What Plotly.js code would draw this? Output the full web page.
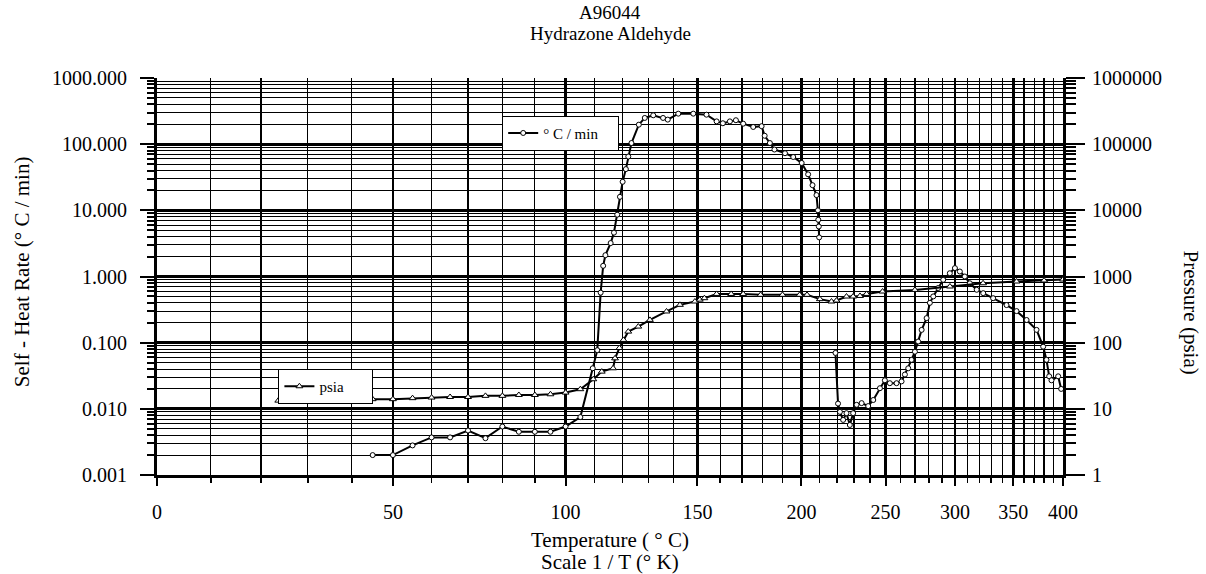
<!DOCTYPE html>
<html>
<head>
<meta charset="utf-8">
<script src="https://cdn.plot.ly/plotly-3.0.1.min.js"></script>
<style>html,body{margin:0;padding:0;background:#fff;}#chart{width:1206px;height:574px;}</style>
</head>
<body>
<div id="chart"></div>
<script>
// Self-heat rate (deg C / min) vs temperature (deg C); null = gap in the record
const heatT = [45, 50, 55, 60, 65, 70, 75, 80, 85, 90, 95, 100, 105, 109.3, 110.9, 112.1, 113, 113.8, 115.7, 116.9, 118.1, 119.1, 120.1, 121.3, 122.2, 123.4, 126.2, 128.5, 131.8, 135.7, 137.6, 141.9, 148.2, 153.9, 158.4, 161.2, 164.4, 167.2, 170.6, 175.4, 179.5, 181, 183.6, 185.9, 191.3, 195.6, 200.1, 203.6, 206, 208.2, 209, 209.2, 209.5, 209.7,
  null,
  219, 220.5, 221.6, 223.5, 225.5, 227.5, 229.5, 231.6, 234.7, 238.8, 242, 246.3, 249.5, 252.8, 257.3, 260.7, 263, 265.3, 267.6, 270, 272.3, 274.8, 278.4, 280.8, 283.3, 287, 290.8, 295.9, 299.9, 303.8, 307.8, 311.9, 317.6, 323.1, 331.7, 343.7, 353, 362.6, 372.4, 379.1, 382.5, 385.3, 387.7, 394.8, 398];
const heatRate = [0.002, 0.002, 0.0028, 0.0037, 0.0037, 0.0047, 0.0036, 0.0054, 0.0045, 0.0045, 0.0045, 0.0054, 0.0075, 0.041, 0.077, 0.57, 1.45, 2.1, 3.2, 4.6, 8.6, 16, 27, 42, 65, 104, 197, 249, 273, 249, 235, 289, 289, 279, 221, 207, 221, 230, 204, 182, 187, 134, 104, 83, 73, 64, 52, 35, 24, 17, 10, 7.2, 5.7, 3.9,
  null,
  0.07, 0.012, 0.009, 0.0068, 0.0086, 0.0057, 0.0086, 0.0115, 0.0122, 0.011, 0.0136, 0.0205, 0.027, 0.0244, 0.0244, 0.026, 0.033, 0.041, 0.055, 0.073, 0.104, 0.156, 0.235, 0.40, 0.50, 0.67, 0.89, 1.12, 1.34, 1.19, 1.0, 0.79, 0.63, 0.56, 0.47, 0.37, 0.30, 0.22, 0.156, 0.087, 0.055, 0.031, 0.027, 0.031, 0.02];

// Pressure (psia) vs temperature (deg C)
const pressT = [23.6, 26.8, 30.1, 33.1, 36.9, 40, 45, 50, 55, 60, 65, 70, 75, 80, 85, 90, 95, 100, 105, 109.5, 112.5, 116.6, 117.3, 118.9, 120.4, 122.2, 126, 130.5, 137.1, 142.6, 148.9, 151, 153, 158.4, 165, 170.6, 179, 190, 199, 203, 210.1, 216.7, 219.6, 225.5, 229.5, 233.7, 237.8, 248, 270, 296, 323, 353, 380, 400];
const pressPsia = [13.3, 13.6, 13.3, 13.6, 13.3, 13.6, 14.0, 14.0, 14.5, 14.8, 15.1, 15.1, 15.7, 15.7, 16.2, 16.2, 16.6, 17.6, 19.8, 28, 36.5, 41, 58, 83, 110, 147, 175, 221, 296, 373, 419, 447, 470, 545, 545, 545, 528, 528, 528, 528, 455, 419, 433, 498, 498, 508, 545, 593, 627, 706, 790, 840, 870, 900];

// Axis ticks
const xTickC = [0, 50, 100, 150, 200, 250, 300, 350, 400];
const xMinorC = [10,20,30,40,60,70,80,90,110,120,130,140,160,170,180,190,210,220,230,240,260,270,280,290,310,320,330,340,360,370,380,390];
const yLeftTickVals = [0.001, 0.01, 0.1, 1, 10, 100, 1000];
const yLeftTickText = ['0.001', '0.010', '0.100', '1.000', '10.000', '100.000', '1000.000'];
const yRightTickVals = [1, 10, 100, 1000, 10000, 100000, 1000000];
const yRightTickText = ['1', '10', '100', '1000', '10000', '100000', '1000000'];

// Scale 1/T (K): x plotted as -1000/T
const toX = t => (t === null ? null : -1000 / (t + 273.15));

function minorLog(lo, hi) {
  const v = [];
  for (let e = lo; e < hi; e++) for (let m = 2; m <= 9; m++) v.push(m * Math.pow(10, e));
  return v;
}

const FONT = 'Liberation Serif, Times New Roman, serif';
const FS = 20;

const traces = [
  {
    x: heatT.map(toX), y: heatRate, name: '° C / min', type: 'scatter', mode: 'lines+markers',
    connectgaps: false, legend: 'legend',
    line: {color: '#000', width: 2},
    marker: {symbol: 'circle', size: 5, color: '#fff', line: {color: '#000', width: 1}}
  },
  {
    x: pressT.map(toX), y: pressPsia, name: 'psia', type: 'scatter', mode: 'lines+markers',
    yaxis: 'y2', legend: 'legend2',
    line: {color: '#000', width: 2},
    marker: {symbol: 'triangle-up', size: 6, color: '#fff', line: {color: '#000', width: 1}}
  }
];

const txt = (text, x, y, extra) => Object.assign({
  text: text, xref: 'paper', yref: 'paper', x: x, y: y, xanchor: 'center', yanchor: 'middle',
  showarrow: false, font: {family: FONT, size: 21, color: '#000'}
}, extra || {});

const layout = {
  width: 1206, height: 574,
  margin: {l: 157, r: 143, t: 78, b: 99},
  paper_bgcolor: '#fff', plot_bgcolor: '#fff',
  font: {family: FONT, color: '#000', size: FS},
  showlegend: true,
  xaxis: {
    range: [toX(0), toX(400)],
    tickmode: 'array', tickvals: xTickC.map(toX), ticktext: xTickC.map(String),
    ticks: 'outside', ticklen: 8, tickwidth: 2, tickcolor: '#000',
    ticklabelstandoff: 9,
    tickfont: {family: FONT, size: FS, color: '#000'},
    showline: true, linewidth: 3, linecolor: '#000',
    showgrid: true, gridcolor: '#000', gridwidth: 2.5,
    zeroline: false,
    minor: {tickmode: 'array', tickvals: xMinorC.map(toX), ticks: 'outside', ticklen: 5, tickwidth: 1.5, tickcolor: '#000',
            showgrid: true, gridcolor: '#000', gridwidth: 1.2}
  },
  yaxis: {
    type: 'log', range: [-3, 3],
    tickmode: 'array', tickvals: yLeftTickVals, ticktext: yLeftTickText,
    ticks: 'outside', ticklen: 14, tickwidth: 2, tickcolor: '#000',
    ticklabelstandoff: 9,
    tickfont: {family: FONT, size: FS, color: '#000'},
    showline: true, linewidth: 3, linecolor: '#000',
    showgrid: true, gridcolor: '#000', gridwidth: 3,
    zeroline: false,
    minor: {tickmode: 'array', tickvals: minorLog(-3, 3), ticks: 'outside', ticklen: 7, tickwidth: 2, tickcolor: '#000',
            showgrid: true, gridcolor: '#000', gridwidth: 1}
  },
  yaxis2: {
    type: 'log', range: [0, 6], overlaying: 'y', side: 'right',
    tickmode: 'array', tickvals: yRightTickVals, ticktext: yRightTickText,
    ticks: 'outside', ticklen: 19, tickwidth: 2, tickcolor: '#000',
    ticklabelstandoff: 3,
    tickfont: {family: FONT, size: FS, color: '#000'},
    showline: true, linewidth: 3, linecolor: '#000',
    showgrid: false, zeroline: false,
    minor: {tickmode: 'array', tickvals: minorLog(0, 6), ticks: 'outside', ticklen: 10, tickwidth: 2, tickcolor: '#000', showgrid: false}
  },
  legend: {
    orientation: 'h',
    x: 0.381, y: 0.905, xanchor: 'left', yanchor: 'top',
    bgcolor: '#fff', bordercolor: '#000', borderwidth: 1,
    font: {family: FONT, size: 15, color: '#000'},
    itemwidth: 30, entrywidth: 70, entrywidthmode: 'pixels'
  },
  legend2: {
    orientation: 'h',
    x: 0.134, y: 0.267, xanchor: 'left', yanchor: 'top',
    bgcolor: '#fff', bordercolor: '#000', borderwidth: 1,
    font: {family: FONT, size: 15, color: '#000'},
    itemwidth: 30, entrywidth: 48, entrywidthmode: 'pixels'
  },
  annotations: [
    txt('A96044', 0.5, 1.164, {font: {family: FONT, size: 19, color: '#000'}}),
    txt('Hydrazone Aldehyde', 0.5, 1.113, {font: {family: FONT, size: 19, color: '#000'}}),
    txt('Temperature ( ° C)', 0.5, -0.164),
    txt('Scale 1 / T (° K)', 0.5, -0.219),
    txt('Self - Heat Rate (° C / min)', -0.149, 0.511, {textangle: -90}),
    txt('Pressure (psia)', 1.141, 0.41, {textangle: 90})
  ]
};

Plotly.newPlot('chart', traces, layout, {displayModeBar: false, staticPlot: true});
</script>
</body>
</html>
